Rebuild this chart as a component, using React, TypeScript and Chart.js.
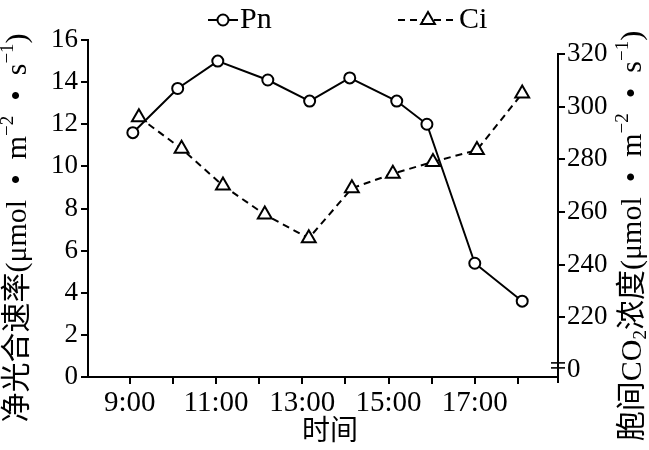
import React, { useEffect, useRef } from 'react';
import { Chart, registerables } from 'chart.js';
import { drawPoint } from 'chart.js/helpers';

Chart.register(...registerables);

// ---- data ----
const PN_TIMES = [9.07, 10.11, 11.04, 12.2, 13.17, 14.1, 15.19, 15.89, 17.0, 18.1];
const PN_VALUES = [11.6, 13.7, 15.0, 14.1, 13.1, 14.2, 13.1, 12.0, 5.4, 3.6];
const CI_TIMES = [9.21, 10.2, 11.16, 12.13, 13.15, 14.15, 15.1, 16.03, 17.05, 18.1];
const CI_VALUES = [296, 284, 270, 259, 250, 269, 274.5, 279, 283.5, 305];

const X_TICKS = [9, 10, 11, 12, 13, 14, 15, 16, 17, 18];
const X_LABELS = ['9:00', '', '11:00', '', '13:00', '', '15:00', '', '17:00', ''];
const LEFT_TICKS = [0, 2, 4, 6, 8, 10, 12, 14, 16];
const RIGHT_TICKS = [200, 220, 240, 260, 280, 300, 320];
const RIGHT_LABELS = ['0', '220', '240', '260', '280', '300', '320'];

const SERIES_NAMES = ['Pn', 'Ci'];
const X_TITLE = '时间';
// [text, kind]: 0 normal, 1 superscript, -1 subscript
const LEFT_TITLE: [string, number][] = [
  ['净光合速率(μmol\u2002•\u2002m', 0], ['−2', 1], ['\u2002•\u2002s', 0], ['−1', 1], [')', 0],
];
const RIGHT_TITLE: [string, number][] = [
  ['胞间CO', 0], ['2', -1], ['浓度(μmol\u2002•\u2002m', 0], ['−2', 1], ['\u2002•\u2002s', 0], ['−1', 1], [')', 0],
];

const FONT_FAMILY = '"Liberation Serif", "Noto Sans CJK SC", serif';
const TICK_FONT = { family: FONT_FAMILY, size: 27 };

function drawRich(ctx: CanvasRenderingContext2D, parts: [string, number][], cx: number, cy: number, rot: number) {
  const main = `30px ${FONT_FAMILY}`;
  const small = `19px ${FONT_FAMILY}`;
  let total = 0;
  const widths = parts.map(([t, k]) => {
    ctx.font = k === 0 ? main : small;
    const w = ctx.measureText(t).width;
    total += w;
    return w;
  });
  ctx.save();
  ctx.translate(cx, cy);
  ctx.rotate(rot);
  ctx.fillStyle = '#000';
  ctx.textBaseline = 'middle';
  ctx.textAlign = 'left';
  let x = -total / 2;
  parts.forEach(([t, k], i) => {
    ctx.font = k === 0 ? main : small;
    const dy = k === 1 ? -10 : k === -1 ? 8 : 0;
    ctx.fillText(t, x, dy);
    x += widths[i];
  });
  ctx.restore();
}

const decorPlugin = {
  id: 'decor',
  afterDraw(chart: any) {
    const ctx: CanvasRenderingContext2D = chart.ctx;
    const area = chart.chartArea;
    const y1 = chart.scales.y1;
    ctx.save();
    // right axis line (starts at the top tick) with break marks near the bottom
    const ax = area.right;
    ctx.strokeStyle = '#000';
    ctx.lineWidth = 2;
    ctx.beginPath();
    ctx.moveTo(ax, y1.getPixelForValue(320) - 1);
    ctx.lineTo(ax, area.bottom + 6);
    ctx.stroke();
    const yb = y1.getPixelForValue(200);
    ctx.lineWidth = 1.6;
    [yb - 7, yb - 2].forEach((yy) => {
      ctx.beginPath();
      ctx.moveTo(ax - 7, yy);
      ctx.lineTo(ax + 7, yy);
      ctx.stroke();
    });

    // axis titles
    drawRich(ctx, LEFT_TITLE, 18, 228, -Math.PI / 2);
    drawRich(ctx, RIGHT_TITLE, 633, 236, -Math.PI / 2);
    ctx.font = `28px ${FONT_FAMILY}`;
    ctx.fillStyle = '#000';
    ctx.textAlign = 'center';
    ctx.textBaseline = 'middle';
    ctx.fillText(X_TITLE, 330, 433);

    // legend built from dataset styles
    const items = [
      { ds: chart.data.datasets[0], x0: 208, x1: 238, mx: 223, tx: 240 },
      { ds: chart.data.datasets[1], x0: 398, x1: 455, mx: 428, tx: 459 },
    ];
    const ly = 20;
    items.forEach((it) => {
      const ds = it.ds;
      ctx.strokeStyle = ds.borderColor;
      ctx.lineWidth = ds.borderWidth;
      ctx.setLineDash(ds.borderDash || []);
      ctx.beginPath();
      ctx.moveTo(it.x0, ly);
      ctx.lineTo(it.x1, ly);
      ctx.stroke();
      ctx.setLineDash([]);
      ctx.fillStyle = ds.pointBackgroundColor;
      ctx.strokeStyle = ds.pointBorderColor;
      ctx.lineWidth = ds.pointBorderWidth;
      drawPoint(ctx, { pointStyle: ds.pointStyle, radius: ds.pointRadius, borderWidth: ds.pointBorderWidth, rotation: 0 }, it.mx, ly);
      ctx.fillStyle = '#000';
      ctx.font = `30px ${FONT_FAMILY}`;
      ctx.textAlign = 'left';
      ctx.textBaseline = 'middle';
      ctx.fillText(ds.label, it.tx, ly);
    });
    ctx.restore();
  },
};

export default function App() {
  const ref = useRef<HTMLCanvasElement | null>(null);
  useEffect(() => {
    if (!ref.current) return;
    const chart = new Chart(ref.current, {
      type: 'line',
      data: {
        datasets: [
          {
            label: SERIES_NAMES[0],
            data: PN_TIMES.map((t, i) => ({ x: t, y: PN_VALUES[i] })),
            yAxisID: 'y',
            borderColor: '#000',
            borderWidth: 2,
            pointStyle: 'circle',
            pointRadius: 5.5,
            pointBorderWidth: 2,
            pointBorderColor: '#000',
            pointBackgroundColor: '#fff',
            tension: 0,
          },
          {
            label: SERIES_NAMES[1],
            data: CI_TIMES.map((t, i) => ({ x: t, y: CI_VALUES[i] })),
            yAxisID: 'y1',
            borderColor: '#000',
            borderWidth: 2,
            borderDash: [7, 5],
            pointStyle: 'triangle',
            pointRadius: 8,
            pointBorderWidth: 2,
            pointBorderColor: '#000',
            pointBackgroundColor: '#fff',
            tension: 0,
          },
        ],
      },
      options: {
        responsive: false,
        animation: false,
        devicePixelRatio: 1,
        layout: { padding: { top: 40, left: 0, right: 0, bottom: 0 } },
        plugins: {
          legend: { display: false },
          tooltip: { enabled: false },
        },
        scales: {
          x: {
            type: 'linear',
            min: 8.03,
            max: 18.93,
            afterBuildTicks: (s: any) => { s.ticks = X_TICKS.map((v) => ({ value: v })); },
            afterFit: (s: any) => { s.height = 73; },
            ticks: {
              autoSkip: false,
              maxRotation: 0,
              padding: 2,
              color: '#000',
              font: { family: FONT_FAMILY, size: 29 },
              callback: (_v: any, i: number) => X_LABELS[i],
            },
            grid: { drawOnChartArea: false, drawTicks: true, tickLength: 7, color: '#000', lineWidth: 2 },
            border: { display: true, color: '#000', width: 2 },
          },
          y: {
            type: 'linear',
            position: 'left',
            min: 0,
            max: 16,
            afterBuildTicks: (s: any) => { s.ticks = LEFT_TICKS.map((v) => ({ value: v })); },
            afterFit: (s: any) => { s.width = 88; },
            ticks: { padding: 3, color: '#000', font: TICK_FONT, callback: (v: any) => String(v) },
            grid: { drawOnChartArea: false, drawTicks: true, tickLength: 7, color: '#000', lineWidth: 2 },
            border: { display: true, color: '#000', width: 2 },
          },
          y1: {
            type: 'linear',
            position: 'right',
            min: 197.3,
            max: 325.3,
            afterBuildTicks: (s: any) => { s.ticks = RIGHT_TICKS.map((v) => ({ value: v })); },
            afterFit: (s: any) => { s.width = 91; },
            ticks: { padding: 2, color: '#000', font: TICK_FONT, callback: (_v: any, i: number) => RIGHT_LABELS[i] },
            grid: {
              drawOnChartArea: false,
              drawTicks: true,
              tickLength: 7,
              lineWidth: 2,
              color: (c: any) => (c.tick && c.tick.value === 200 ? 'rgba(0,0,0,0)' : '#000'),
            },
            border: { display: false },
          },
        },
      },
      plugins: [decorPlugin],
    } as any);
    return () => chart.destroy();
  }, []);

  return (
    <div style={{ position: 'absolute', left: 0, top: 0, width: 649, height: 450, background: '#fff' }}>
      <canvas ref={ref} width={649} height={450} style={{ display: 'block' }} />
    </div>
  );
}
